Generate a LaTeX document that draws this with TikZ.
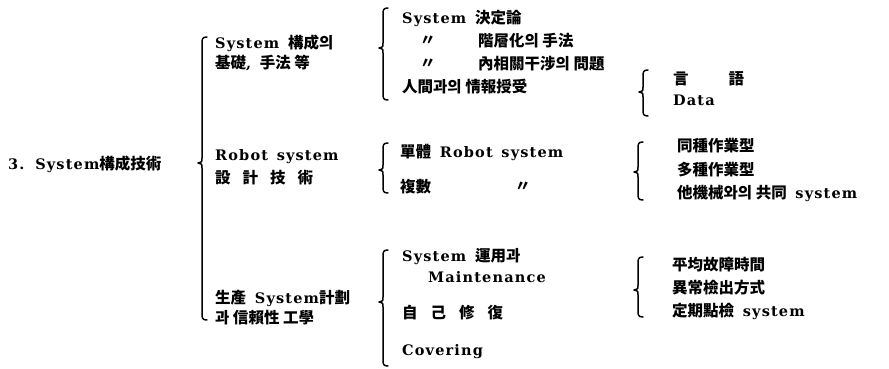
\documentclass[tikz,border=0pt]{standalone}
\usepackage{fontspec}
\setmainfont{DejaVu Serif}[LetterSpace=8,WordSpace=1.4]
\newfontfamily\cjk{Noto Sans CJK KR}
\newcommand\CJ[1]{{\cjk\fontsize{15.5}{18}\selectfont #1}}
\newcommand\brc[4]{%
  \draw[bracestyle] (#1+5,#2) .. controls (#1,#2) and (#1,#2+2) .. (#1,#2+7)
    -- (#1,#3-5) .. controls (#1,#3-1) .. (#1-4,#3)
    .. controls (#1,#3+1) .. (#1,#3+5)
    -- (#1,#4-7) .. controls (#1,#4-2) and (#1,#4) .. (#1+5,#4);}
\begin{document}
\begin{tikzpicture}[x=1pt,y=-1pt,
  bracestyle/.style={line width=1.5pt,line cap=round,line join=round},
  txt/.style={anchor=west,inner sep=0pt,font=\bfseries\fontsize{14.5}{17}\selectfont}]
\useasboundingbox (0,0) rectangle (889,369);
% braces
\brc{202}{37}{163}{320}
\brc{383}{8}{48}{100}
\brc{643}{70}{92}{116}
\brc{383}{143}{170}{193}
\brc{638}{142}{172}{200}
\brc{383}{250}{302}{366}
\brc{638}{257}{290}{317}
% title
\node[txt] (title) at (8,164) {3. System\CJ{構成技術}};
% level 2
\node[txt] (a1) at (215,43) {System \CJ{構成의}};
\node[txt] (a2) at (215,63) {\CJ{基礎}, \CJ{手法 等}};
\node[txt] (b1) at (215,157) {Robot system};
\node[txt] (b2) at (215,178) {\CJ{設\hspace{12pt}計\hspace{12pt}技\hspace{12pt}術}};
\node[txt] (c1) at (215,298) {\CJ{生產} System\CJ{計劃}};
\node[txt] (c2) at (215,318) {\CJ{과 信賴性 工學}};
% level 3 group 1
\node[txt] (d1) at (402,18) {System \CJ{決定論}};
\node[txt] (d2q) at (420,41) {\CJ{〃}};
\node[txt] (d2) at (478,41) {\CJ{階層化의 手法}};
\node[txt] (d3q) at (420,64) {\CJ{〃}};
\node[txt] (d3) at (478,64) {\CJ{內相關干涉의 問題}};
\node[txt] (d4) at (402,87) {\CJ{人間과의 情報授受}};
\node[txt] (e1) at (673,79) {\CJ{言\hspace{40pt}語}};
\node[txt] (e2) at (673,100) {Data};
% level 3 group 2
\node[txt] (f1) at (400,152) {\CJ{單體} Robot system};
\node[txt] (f2) at (400,187) {\CJ{複數}};
\node[txt] (f2q) at (515,187) {\CJ{〃}};
\node[txt] (g1) at (677,146) {\CJ{同種作業型}};
\node[txt] (g2) at (677,170) {\CJ{多種作業型}};
\node[txt] (g3) at (677,193) {\CJ{他機械와의 共同} system};
% level 3 group 3
\node[txt] (h1) at (402,257) {System \CJ{運用과}};
\node[txt] (h2) at (428,277) {Maintenance};
\node[txt] (h3) at (402,313) {\CJ{自\hspace{13pt}己\hspace{13pt}修\hspace{13pt}復}};
\node[txt] (h4) at (402,352) {Covering};
\node[txt] (i1) at (672,265) {\CJ{平均故障時間}};
\node[txt] (i2) at (672,288) {\CJ{異常檢出方式}};
\node[txt] (i3) at (672,311) {\CJ{定期點檢} system};
\end{tikzpicture}
\end{document}
